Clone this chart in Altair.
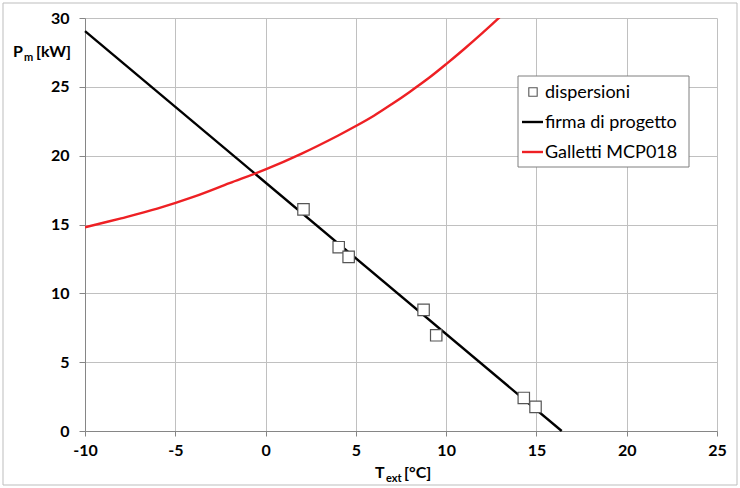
import altair as alt
import pandas as pd

# Measured heat losses (dispersioni)
disp_t = [2.1, 4.05, 4.6, 8.75, 9.45, 14.3, 14.95]
disp_p = [16.1, 13.35, 12.65, 8.8, 6.95, 2.4, 1.75]

# Design signature (firma di progetto), a straight line
firma_t = [-10, 16.4]
firma_p = [29.05, 0.0]

# Heat pump capacity curve (Galletti MCP018)
gal_t = [-10, -8, -6, -4, -2, 0, 2, 4, 5, 6, 7, 8, 9, 10, 11, 12, 13, 14]
gal_p = [14.8, 15.45, 16.15, 17.0, 18.0, 19.0, 20.15, 21.45, 22.15, 22.9,
         23.75, 24.65, 25.6, 26.65, 27.75, 28.9, 30.1, 31.35]

x_ticks = [-10, -5, 0, 5, 10, 15, 20, 25]
y_ticks = [0, 5, 10, 15, 20, 25, 30]

FONT = "Lato"
W, H = 632, 413

xs = alt.Scale(domain=[-10, 25], nice=False, zero=False)
ys = alt.Scale(domain=[0, 30], nice=False)

x_axis = alt.Axis(values=x_ticks, title=None, labelFont=FONT, labelFontSize=16,
                  labelFontWeight="bold", labelColor="black", labelPadding=6,
                  tickSize=5, tickColor="#868686", domainColor="#868686",
                  gridColor="#c0c0c0", labelFlush=False,
                  labelExpr="toString(datum.value)")
y_axis = alt.Axis(values=y_ticks, title=None, labelFont=FONT, labelFontSize=16,
                  labelFontWeight="bold", labelColor="black", labelPadding=10,
                  tickSize=6, tickColor="#868686", domainColor="#868686",
                  gridColor="#c0c0c0", labelExpr="toString(datum.value)")

df_disp = pd.DataFrame({"t": disp_t, "p": disp_p})
df_firma = pd.DataFrame({"t": firma_t, "p": firma_p})
df_gal = pd.DataFrame({"t": gal_t, "p": gal_p})

base_axes = alt.Chart(df_firma).mark_line(color="black", strokeWidth=2.4).encode(
    x=alt.X("t:Q", scale=xs, axis=x_axis),
    y=alt.Y("p:Q", scale=ys, axis=y_axis),
)

gal = alt.Chart(df_gal).mark_line(color="#ee2024", strokeWidth=2.4, clip=True,
                                  interpolate="catmull-rom").encode(
    x=alt.X("t:Q", scale=xs),
    y=alt.Y("p:Q", scale=ys),
)

pts = alt.Chart(df_disp).mark_point(shape="square", size=130, filled=False,
                                    fill="white", fillOpacity=1,
                                    stroke="#555555", strokeWidth=1.2, opacity=1).encode(
    x=alt.X("t:Q", scale=xs),
    y=alt.Y("p:Q", scale=ys),
)

one = pd.DataFrame({"k": [0]})


def label(text, x, y, size=16, weight="bold", align="left"):
    return alt.Chart(one).mark_text(text=text, font=FONT, fontSize=size,
                                    fontWeight=weight, align=align,
                                    baseline="alphabetic", color="black").encode(
        x=alt.value(x), y=alt.value(y))


# Outer frame around the whole figure
frame = alt.Chart(one).mark_rect(fill=None, stroke="#bdbdbd", strokeWidth=1,
                                 clip=False).encode(
    x=alt.value(-82), x2=alt.value(652), y=alt.value(-15), y2=alt.value(467))

# Axis titles with subscripts
y_title = [
    label("P", -72, 39),
    label("m", -61, 43, size=11),
    label("[kW]", -49, 39),
]
x_title = [
    label("T", 290, 460),
    label("ext", 301, 464, size=11),
    label("[°C]", 319, 460),
]

# Legend box and entries
leg_box = alt.Chart(one).mark_rect(fill="white", stroke="#7f7f7f", strokeWidth=1).encode(
    x=alt.value(433), x2=alt.value(604), y=alt.value(58), y2=alt.value(149))
leg_sq = alt.Chart(one).mark_point(shape="square", size=70, filled=False, fill="white",
                                   fillOpacity=1, stroke="#555555", strokeWidth=1.1,
                                   opacity=1).encode(x=alt.value(448), y=alt.value(74))
leg_l1 = alt.Chart(one).mark_rule(color="black", strokeWidth=2.4).encode(
    x=alt.value(437), x2=alt.value(458), y=alt.value(104))
leg_l2 = alt.Chart(one).mark_rule(color="#ee2024", strokeWidth=2.4).encode(
    x=alt.value(437), x2=alt.value(458), y=alt.value(134))
leg_txt = [
    label("dispersioni", 460, 80, size=18, weight="normal"),
    label("firma di progetto", 460, 110, size=18, weight="normal"),
    label("Galletti MCP018", 460, 140, size=18, weight="normal"),
]

chart = alt.layer(
    frame, base_axes, gal, pts, *y_title, *x_title,
    leg_box, leg_sq, leg_l1, leg_l2, *leg_txt
).properties(
    width=W, height=H,
    autosize=alt.AutoSizeParams(type="none"),
    padding={"left": 85, "top": 18, "right": 23, "bottom": 57},
    background="white",
).configure_view(stroke=None)

chart.save("out.html", embed_options={"renderer": "svg", "actions": False})
